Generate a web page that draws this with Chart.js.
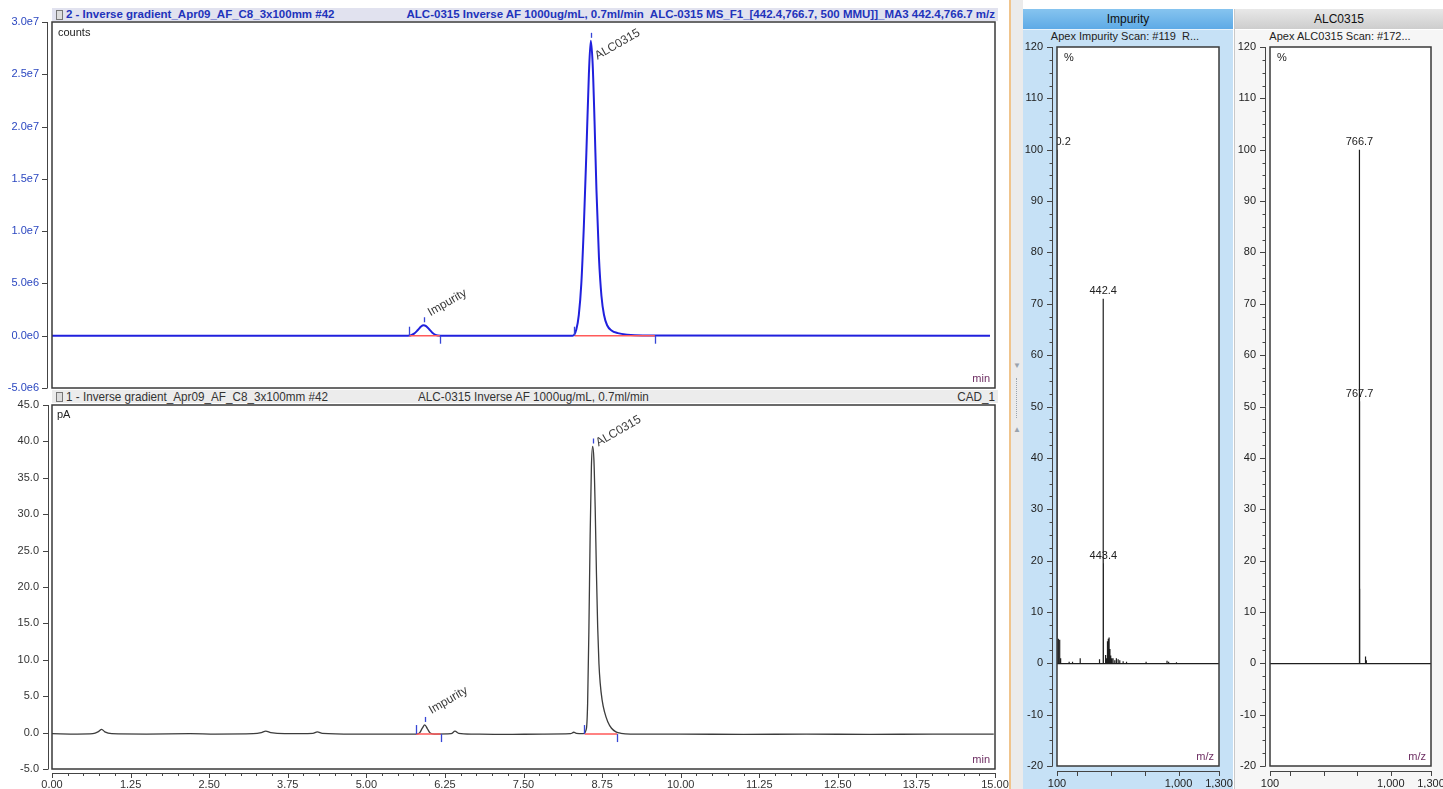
<!DOCTYPE html>
<html><head><meta charset="utf-8">
<script src="https://cdn.jsdelivr.net/npm/chart.js@4.4.1/dist/chart.umd.min.js"></script>
<style>
html,body{margin:0;padding:0;}
body{width:1443px;height:789px;overflow:hidden;background:#fff;position:relative;font-family:"Liberation Sans",Arial,sans-serif;}
.abs{position:absolute;}
canvas{position:absolute;}
#hdrTop{left:52px;top:8px;width:946px;height:13px;background:#e1e2ef;}
#hdrBot{left:52px;top:390px;width:946px;height:13px;background:#ececec;}
.icon{position:absolute;left:4px;top:2px;width:5px;height:8px;border:1px solid #777;background:#ddd;}
#hdrTop span{position:absolute;top:0;line-height:13px;font-size:11.5px;font-weight:bold;color:#2233bb;white-space:pre;}
#hdrBot span{position:absolute;top:0;line-height:13px;font-size:13px;color:#333;white-space:pre;transform:scaleX(0.9);}
#split{left:1009px;top:0;width:12px;height:789px;background:#ebebeb;border-left:2px solid #f0c48c;}
#split .tri{position:absolute;left:2px;font-size:8px;color:#9aa3ad;line-height:8px;}
#split .dots{position:absolute;left:5px;top:378px;height:40px;border-left:1px dotted #9aa3ad;}
#impCol{left:1023px;top:9px;width:210px;height:780px;background:#c6e1f6;}
#alcCol{left:1234px;top:9px;width:209px;height:780px;background:#f6f6f6;border-left:1px solid #c9c9c9;}
.tab{position:absolute;top:9px;height:20px;line-height:20px;text-align:center;font-size:12px;color:#111;}
#impTab{left:1023px;width:210px;background:linear-gradient(#86c4ef,#5eaae6);border-bottom:1px solid #e8f3fc;}
#alcTab{left:1235px;width:208px;background:linear-gradient(#e8e8e8,#cdcdcd);border-bottom:1px solid #fff;}
.sub{position:absolute;top:30px;height:13px;line-height:13px;font-size:11px;color:#222;white-space:pre;text-align:center;}
</style></head>
<body>
<div id="hdrTop" class="abs"><div class="icon"></div><span style="left:14px">2 - Inverse gradient_Apr09_AF_C8_3x100mm #42</span><span style="right:3px">ALC-0315 Inverse AF 1000ug/mL, 0.7ml/min  ALC-0315 MS_F1_[442.4,766.7, 500 MMU]]_MA3 442.4,766.7 m/z</span></div>
<div id="hdrBot" class="abs"><div class="icon"></div><span style="left:14px;transform-origin:left center">1 - Inverse gradient_Apr09_AF_C8_3x100mm #42</span><span style="left:366px;transform-origin:left center">ALC-0315 Inverse AF 1000ug/mL, 0.7ml/min</span><span style="right:3px;transform-origin:right center">CAD_1</span></div>
<div id="split" class="abs"><div class="tri" style="top:362px">&#9660;</div><div class="dots"></div><div class="tri" style="top:426px">&#9650;</div></div>
<div id="impCol" class="abs"></div>
<div id="alcCol" class="abs"></div>
<div id="impTab" class="tab">Impurity</div>
<div id="alcTab" class="tab">ALC0315</div>
<div class="sub" style="left:1040px;width:170px">Apex Impurity Scan: #119  R...</div>
<div class="sub" style="left:1255px;width:170px">Apex ALC0315 Scan: #172...</div>
<canvas id="cTop" width="1010" height="396" style="left:0;top:0"></canvas>
<canvas id="cBot" width="1010" height="399" style="left:0;top:390px"></canvas>
<canvas id="cImp" width="230" height="749" style="left:1020px;top:40px"></canvas>
<canvas id="cAlc" width="230" height="749" style="left:1233px;top:40px"></canvas>
<script>
// ================= DATA =================
// MS chromatogram (top, counts vs min)
const topTime   = [0.00, 5.60, 5.70, 5.76, 5.82, 5.87, 5.91, 5.95, 6.00, 6.05, 6.10, 6.18, 8.28, 8.34, 8.38, 8.42, 8.46, 8.50, 8.54, 8.57, 8.60, 8.63, 8.66, 8.70, 8.74, 8.78, 8.83, 8.90, 9.00, 9.15, 9.40, 14.92];
const topCounts = [0, 0, 0.03e6, 0.2e6, 0.55e6, 0.88e6, 1.0e6, 0.92e6, 0.62e6, 0.28e6, 0.08e6, 0, 0, 0.6e6, 2.0e6, 5.0e6, 10.5e6, 17.5e6, 25.0e6, 28.2e6, 26.0e6, 20.5e6, 14.0e6, 7.5e6, 3.8e6, 2.0e6, 1.0e6, 0.5e6, 0.25e6, 0.1e6, 0.03e6, 0];
// CAD chromatogram (bottom, pA vs min)
const botTime = [0.00, 0.40, 0.65, 0.74, 0.79, 0.84, 0.95, 1.50, 2.20, 2.60, 3.20, 3.33, 3.40, 3.48, 3.70, 4.15, 4.22, 4.30, 4.80, 5.50, 5.80, 5.85, 5.89, 5.93, 5.97, 6.01, 6.08, 6.35, 6.41, 6.47, 6.70, 7.20, 7.80, 8.25, 8.30, 8.34, 8.45, 8.50, 8.52, 8.54, 8.56, 8.58, 8.60, 8.62, 8.64, 8.66, 8.68, 8.70, 8.72, 8.75, 8.79, 8.84, 8.90, 8.97, 9.05, 9.20, 10.0, 11.0, 12.0, 13.0, 14.0, 14.98];
const botPA   = [-0.15, -0.2, -0.15, 0.15, 0.45, 0.1, -0.15, -0.2, -0.15, -0.2, -0.15, 0.0, 0.2, 0.0, -0.15, -0.1, 0.1, -0.1, -0.2, -0.2, -0.2, 0.0, 0.6, 1.05, 0.55, 0.0, -0.2, -0.15, 0.2, -0.1, -0.2, -0.25, -0.2, -0.15, 0.05, -0.1, -0.15, 0.5, 4.0, 14, 27, 36.5, 39.3, 37.5, 31, 22, 14.5, 9.5, 6.8, 4.5, 2.8, 1.5, 0.6, 0.1, -0.1, -0.2, -0.2, -0.25, -0.2, -0.25, -0.2, -0.2];
// integrated peaks
const topPeakNames = ['Impurity', 'ALC0315'];
const topPeakStart = [5.68, 8.31];
const topPeakApex  = [5.91, 8.57];
const topPeakEnd   = [6.17, 9.59];
const topPeakBase  = [0, 0];
const botPeakNames = ['Impurity', 'ALC0315'];
const botPeakStart = [5.79, 8.47];
const botPeakApex  = [5.93, 8.60];
const botPeakEnd   = [6.18, 8.99];
const botPeakBase  = [-0.2, -0.2];
// tick labels
const timeTickLabels = ['0.00','1.25','2.50','3.75','5.00','6.25','7.50','8.75','10.00','11.25','12.50','13.75','15.00'];
const topYTickLabels = ['-5.0e6','0.0e0','5.0e6','1.0e7','1.5e7','2.0e7','2.5e7','3.0e7'];
const botYTickLabels = ['-5.0','0.0','5.0','10.0','15.0','20.0','25.0','30.0','35.0','40.0','45.0'];
// mass spectra
const impMz  = [100.2, 110, 120, 127, 190, 215, 272, 415, 442.4, 443.4, 460, 468, 474, 480, 486, 492, 498, 505, 515, 528, 540, 553, 565, 590, 615, 760, 915, 927, 985];
const impInt = [100, 4.8, 4.6, 1.0, 0.3, 0.3, 1.0, 0.8, 71, 19.5, 1.6, 1.0, 4.3, 4.8, 5.0, 2.8, 1.5, 1.0, 1.0, 0.6, 1.0, 0.8, 0.6, 0.4, 0.3, 0.3, 0.5, 0.3, 0.2];
const impLabelMz = [100.2, 442.4, 443.4];
const alcMz  = [766.7, 767.7, 768.7, 812, 818];
const alcInt = [100, 51, 14.5, 1.3, 0.6];
const alcLabelMz = [766.7, 767.7];
const msXTicks = [100, 250, 500, 750, 1000, 1300];
const msXTickLabels = ['100', '', '', '', '1,000', '1,300'];
const msYTickLabels = ['-20','-10','0','10','20','30','40','50','60','70','80','90','100','110','120'];

// ================= HELPERS =================
Chart.defaults.font.family = '"Liberation Sans", Arial, sans-serif';
Chart.defaults.font.size = 11;
Chart.defaults.animation = false;
const CLEAR = 'rgba(0,0,0,0)';

const pts = (xs, ys) => xs.map((v, i) => ({x: v, y: ys[i]}));
const segs = (s, e, b) => { const o = []; s.forEach((v, i) => { o.push({x: v, y: b[i]}, {x: e[i], y: b[i]}, {x: e[i], y: null}); }); return o; };
const sticks = (mz, it) => { const o = []; mz.forEach((m, i) => { o.push({x: m, y: 0}, {x: m, y: it[i]}, {x: m, y: null}); }); return o; };
const valueAt = (xs, ys, t) => ys[xs.indexOf(t)];

function line(ctx, x1, y1, x2, y2) { ctx.beginPath(); ctx.moveTo(x1, y1); ctx.lineTo(x2, y2); ctx.stroke(); }

const framePlugin = {
  id: 'frame',
  beforeDraw(chart, args, o) {
    if (!o.fill) return;
    const a = chart.chartArea, ctx = chart.ctx;
    ctx.save(); ctx.fillStyle = o.fill; ctx.fillRect(a.left, a.top, a.right - a.left, a.bottom - a.top); ctx.restore();
  },
  afterDraw(chart, args, o) {
    const {ctx, chartArea: a, scales: {x, y}} = chart;
    ctx.save();
    ctx.strokeStyle = '#3a3a3a';
    ctx.lineWidth = 1.5;
    ctx.strokeRect(a.left, a.top, a.right - a.left, a.bottom - a.top);
    ctx.lineWidth = 1;
    ctx.strokeStyle = '#444';
    const g = o.gap;
    const ax = a.left - g;
    line(ctx, ax + 0.5, a.top, ax + 0.5, a.bottom);
    y.ticks.forEach(t => { const py = Math.round(y.getPixelForValue(t.value)) + 0.5; line(ctx, ax - 5, py, ax + 0.5, py); });
    if (o.yMinor) {
      const n = Math.round((y.max - y.min) / o.yMinor);
      for (let i = 0; i <= n; i++) { const py = Math.round(y.getPixelForValue(y.min + i * o.yMinor)) + 0.5; line(ctx, ax - 2.5, py, ax + 0.5, py); }
    }
    if (o.xAxis) {
      const ay = a.bottom + g;
      line(ctx, a.left, ay + 0.5, a.right, ay + 0.5);
      x.ticks.forEach(t => { const px = Math.round(x.getPixelForValue(t.value)) + 0.5; line(ctx, px, ay, px, ay + 5); });
      if (o.xMinor) {
        const n = Math.round((x.max - x.min) / o.xMinor);
        for (let i = 0; i <= n; i++) { const px = Math.round(x.getPixelForValue(x.min + i * o.xMinor)) + 0.5; line(ctx, px, ay, px, ay + 3); }
      }
    }
    ctx.font = '11px "Liberation Sans", Arial, sans-serif';
    ctx.textBaseline = 'alphabetic';
    if (o.unitTL) { ctx.fillStyle = '#222'; ctx.textAlign = 'left'; ctx.fillText(o.unitTL, a.left + o.tlDx, a.top + o.tlDy); }
    if (o.unitBR) { ctx.fillStyle = '#6e2f63'; ctx.textAlign = 'right'; ctx.fillText(o.unitBR, a.right - 5, a.bottom - 6); }
    ctx.restore();
  }
};

const peakPlugin = {
  id: 'peaks',
  afterDatasetsDraw(chart, args, o) {
    if (!o.names) return;
    const {ctx, scales: {x, y}} = chart;
    ctx.save();
    ctx.strokeStyle = '#3646d6'; ctx.lineWidth = 1.3;
    ctx.fillStyle = '#3a3a3a';
    ctx.font = '12px "Liberation Sans", Arial, sans-serif';
    o.names.forEach((name, i) => {
      const xs = Math.round(x.getPixelForValue(o.start[i])) + 0.5;
      const xe = Math.round(x.getPixelForValue(o.end[i])) + 0.5;
      const xa = Math.round(x.getPixelForValue(o.apex[i])) + 0.5;
      const yb = y.getPixelForValue(o.base[i]);
      const ya = y.getPixelForValue(o.height[i]);
      line(ctx, xs, yb - 9, xs, yb);
      line(ctx, xe, yb, xe, yb + 8);
      line(ctx, xa, ya - 8, xa, ya - 3);
      ctx.save();
      ctx.translate(xa + o.lab[i][0], ya + o.lab[i][1]);
      ctx.rotate(-Math.PI / 6);
      ctx.fillText(name, 0, 0);
      ctx.restore();
    });
    ctx.restore();
  }
};

const msPlugin = {
  id: 'msl',
  afterDatasetsDraw(chart, args, o) {
    const {ctx, chartArea: a, scales: {x, y}} = chart;
    ctx.save();
    ctx.beginPath(); ctx.rect(a.left, a.top, a.right - a.left, a.bottom - a.top); ctx.clip();
    ctx.fillStyle = '#222';
    ctx.font = '11px "Liberation Sans", Arial, sans-serif';
    ctx.textAlign = 'center'; ctx.textBaseline = 'bottom';
    o.labels.forEach(m => {
      const h = o.ints[o.mz.indexOf(m)];
      ctx.fillText(m.toFixed(1), x.getPixelForValue(m), y.getPixelForValue(h) - 2);
    });
    ctx.restore();
  }
};

function chromChart(id, cfg) {
  return new Chart(document.getElementById(id), {
    type: 'line',
    data: {datasets: cfg.datasets},
    options: {
      responsive: false, animation: false,
      layout: {padding: cfg.padding},
      elements: {point: {radius: 0}},
      plugins: {legend: {display: false}, tooltip: {enabled: false}, frame: cfg.frame, peaks: cfg.peaks},
      scales: {
        x: {
          type: 'linear', min: 0, max: 15, display: cfg.showX,
          grid: {display: true, drawOnChartArea: false, drawTicks: true, tickLength: 9, tickColor: CLEAR, color: CLEAR},
          border: {display: false},
          ticks: {stepSize: 1.25, autoSkip: false, maxRotation: 0, padding: 0, color: '#333', callback: (v, i) => timeTickLabels[i]},
          afterFit: s => { s.height = cfg.showX ? 20 : 0; }
        },
        y: {
          type: 'linear', min: cfg.yMin, max: cfg.yMax,
          grid: {display: true, drawOnChartArea: false, drawTicks: true, tickLength: 13, tickColor: CLEAR, color: CLEAR},
          border: {display: false},
          ticks: {stepSize: cfg.yStep, autoSkip: false, padding: 0, color: cfg.yColor, callback: (v, i) => cfg.yLabels[i]},
          afterFit: s => { s.width = 52; }
        }
      }
    },
    plugins: [framePlugin, peakPlugin]
  });
}

function msChart(id, mz, it, labs, padRight) {
  return new Chart(document.getElementById(id), {
    type: 'line',
    data: {datasets: [{data: sticks(mz, it), borderColor: '#1e1e1e', borderWidth: 1.2, pointRadius: 0, spanGaps: false, tension: 0}]},
    options: {
      responsive: false, animation: false,
      layout: {padding: {top: 7, bottom: 1, left: 0, right: padRight}},
      plugins: {legend: {display: false}, tooltip: {enabled: false},
        frame: {gap: 5, yMinor: 2.5, xAxis: true, fill: '#ffffff', unitTL: '%', tlDx: 7, tlDy: 14, unitBR: 'm/z'},
        msl: {mz: mz, ints: it, labels: labs}},
      scales: {
        x: {
          type: 'linear', min: 100, max: 1300,
          grid: {display: true, drawOnChartArea: false, drawTicks: true, tickLength: 11, tickColor: CLEAR, color: CLEAR},
          border: {display: false},
          afterBuildTicks: s => { s.ticks = msXTicks.map(v => ({value: v})); },
          ticks: {autoSkip: false, maxRotation: 0, padding: 0, color: '#222', callback: (v, i) => msXTickLabels[i]},
          afterFit: s => { s.height = 22; }
        },
        y: {
          type: 'linear', min: -20, max: 120,
          grid: {display: true, drawOnChartArea: true, drawTicks: true, tickLength: 14, tickColor: CLEAR, lineWidth: 1.2,
                 color: c => (c.tick && c.tick.value === 0) ? '#1e1e1e' : CLEAR},
          border: {display: false},
          ticks: {stepSize: 10, autoSkip: false, padding: 0, color: '#222', callback: (v, i) => msYTickLabels[i]},
          afterFit: s => { s.width = 37; }
        }
      }
    },
    plugins: [framePlugin, msPlugin]
  });
}

// ================= CHARTS =================
chromChart('cTop', {
  datasets: [
    {data: segs(topPeakStart, topPeakEnd, topPeakBase), borderColor: '#ff5a5a', borderWidth: 1.5, tension: 0, order: 0},
    {data: pts(topTime, topCounts), borderColor: '#2020dd', borderWidth: 2, cubicInterpolationMode: 'monotone', order: 1}
  ],
  padding: {top: 22, bottom: 8, left: 0, right: 15},
  showX: false, yMin: -5e6, yMax: 3e7, yStep: 5e6, yLabels: topYTickLabels, yColor: '#2b47c0',
  frame: {gap: 5, xAxis: false, unitTL: 'counts', tlDx: 6, tlDy: 14, unitBR: 'min'},
  peaks: {names: topPeakNames, start: topPeakStart, end: topPeakEnd, apex: topPeakApex, base: topPeakBase,
          height: topPeakApex.map(t => valueAt(topTime, topCounts, t)), lab: [[6, -9], [6, 19]]}
});

chromChart('cBot', {
  datasets: [
    {data: segs(botPeakStart, botPeakEnd, botPeakBase), borderColor: '#ff5a5a', borderWidth: 1.5, tension: 0, order: 0},
    {data: pts(botTime, botPA), borderColor: '#3c3c3c', borderWidth: 1.3, cubicInterpolationMode: 'monotone', order: 1}
  ],
  padding: {top: 15, bottom: 0, left: 0, right: 15},
  showX: true, yMin: -5, yMax: 45, yStep: 5, yLabels: botYTickLabels, yColor: '#333',
  frame: {gap: 4, xAxis: true, xMinor: 0.25, unitTL: 'pA', tlDx: 5, tlDy: 13, unitBR: 'min'},
  peaks: {names: botPeakNames, start: botPeakStart, end: botPeakEnd, apex: botPeakApex, base: botPeakBase,
          height: botPeakApex.map(t => valueAt(botTime, botPA, t)), lab: [[6, -11], [5, 0]]}
});

msChart('cImp', impMz, impInt, impLabelMz, 31);
msChart('cAlc', alcMz, alcInt, alcLabelMz, 32);
</script>
</body></html>
